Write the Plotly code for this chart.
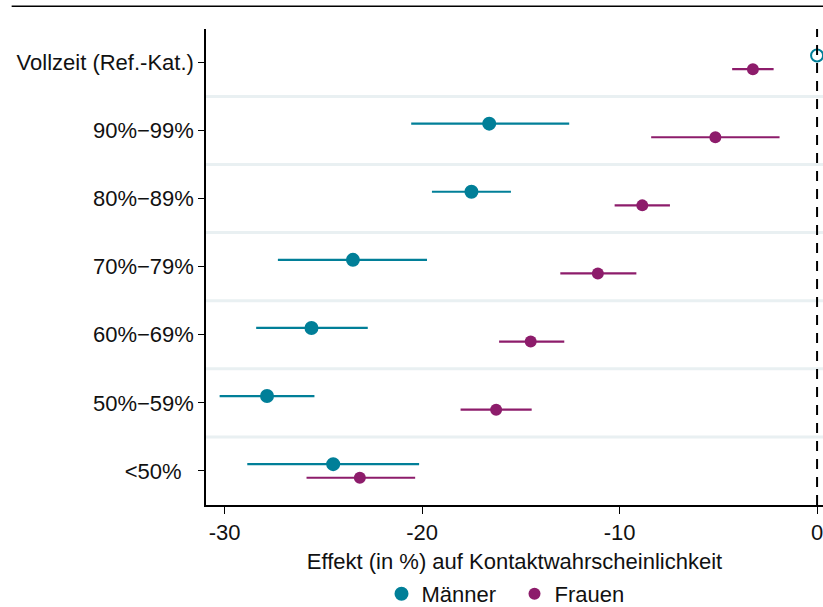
import plotly.graph_objects as go

# Categories, bottom to top
categories = ["<50%\u00a0\u00a0", "50%\u221259%", "60%\u221269%", "70%\u221279%",
              "80%\u221289%", "90%\u221299%", "Vollzeit (Ref.-Kat.)"]

maenner_est = [-24.5, -27.85, -25.6, -23.5, -17.5, -16.6, 0.0]
maenner_lo = [-28.85, -30.25, -28.4, -27.3, -19.5, -20.55, 0.0]
maenner_hi = [-20.15, -25.45, -22.75, -19.75, -15.5, -12.55, 0.0]

frauen_est = [-23.15, -16.25, -14.5, -11.1, -8.85, -5.15, -3.25]
frauen_lo = [-25.85, -18.05, -16.1, -13.0, -10.25, -8.4, -4.3]
frauen_hi = [-20.35, -14.45, -12.8, -9.15, -7.45, -1.9, -2.2]

x_ticks = [-30, -20, -10, 0]

TEAL = "#017f98"
PURPLE = "#8d1c6b"
FONT = "Liberation Sans, Arial, sans-serif"
off = 0.1

pos = list(range(1, len(categories) + 1))

fig = go.Figure()

m_symbols = ["circle"] * (len(categories) - 1) + ["circle-open"]
fig.add_trace(go.Scatter(
    x=maenner_est, y=[p + off for p in pos], mode="markers", name="Männer",
    marker=dict(color=TEAL, size=12, symbol=m_symbols, line=dict(color=TEAL, width=2)),
    error_x=dict(type="data", symmetric=False,
                 array=[h - e for h, e in zip(maenner_hi, maenner_est)],
                 arrayminus=[e - l for e, l in zip(maenner_est, maenner_lo)],
                 color=TEAL, thickness=2.2, width=0),
    cliponaxis=False,
))
fig.add_trace(go.Scatter(
    x=frauen_est, y=[p - off for p in pos], mode="markers", name="Frauen",
    marker=dict(color=PURPLE, size=12, symbol="circle"),
    error_x=dict(type="data", symmetric=False,
                 array=[h - e for h, e in zip(frauen_hi, frauen_est)],
                 arrayminus=[e - l for e, l in zip(frauen_est, frauen_lo)],
                 color=PURPLE, thickness=2.2, width=0),
))

shapes = []
for p in pos[:-1]:
    shapes.append(dict(type="line", xref="paper", yref="y", x0=0, x1=1,
                       y0=p + 0.5, y1=p + 0.5, line=dict(color="#e9f0f2", width=3),
                       layer="below"))
shapes.append(dict(type="line", xref="x", yref="paper", x0=0, x1=0, y0=0, y1=1,
                   line=dict(color="black", width=2, dash="10px,8px")))
shapes.append(dict(type="line", xref="paper", yref="paper", x0=-0.315, x1=1.0,
                   y0=1.048, y1=1.048, line=dict(color="black", width=1.5)))

fig.update_layout(
    width=823, height=607,
    margin=dict(l=206, r=0, t=29, b=102, autoexpand=False),
    paper_bgcolor="white", plot_bgcolor="white",
    font=dict(family=FONT, size=22, color="#111"),
    shapes=shapes,
    showlegend=True,
    legend=dict(orientation="h", x=0.5, xanchor="center", y=-0.187, yanchor="middle",
                font=dict(size=22), itemsizing="constant", traceorder="normal",
                entrywidth=88, entrywidthmode="pixels"),
    xaxis=dict(range=[-30.94, 0.3], tickvals=x_ticks, ticktext=[str(v) for v in x_ticks],
               showgrid=False, zeroline=False, showline=True, linecolor="black", linewidth=1.5,
               ticks="outside", ticklen=7, tickcolor="black", automargin=False,
               ticklabeloverflow="allow",
               title=dict(text="Effekt (in %) auf Kontaktwahrscheinlichkeit", standoff=9,
                          font=dict(size=22))),
    yaxis=dict(range=[0.5, 7.49], tickvals=pos, ticktext=categories,
               showgrid=False, zeroline=False, showline=True, linecolor="black", linewidth=1.5,
               ticks="outside", ticklen=6, tickcolor="black", automargin=False),
)

fig.write_html("out.html", config={"displayModeBar": False},
               post_script="document.body.style.margin='0';document.body.style.overflow='hidden';")
